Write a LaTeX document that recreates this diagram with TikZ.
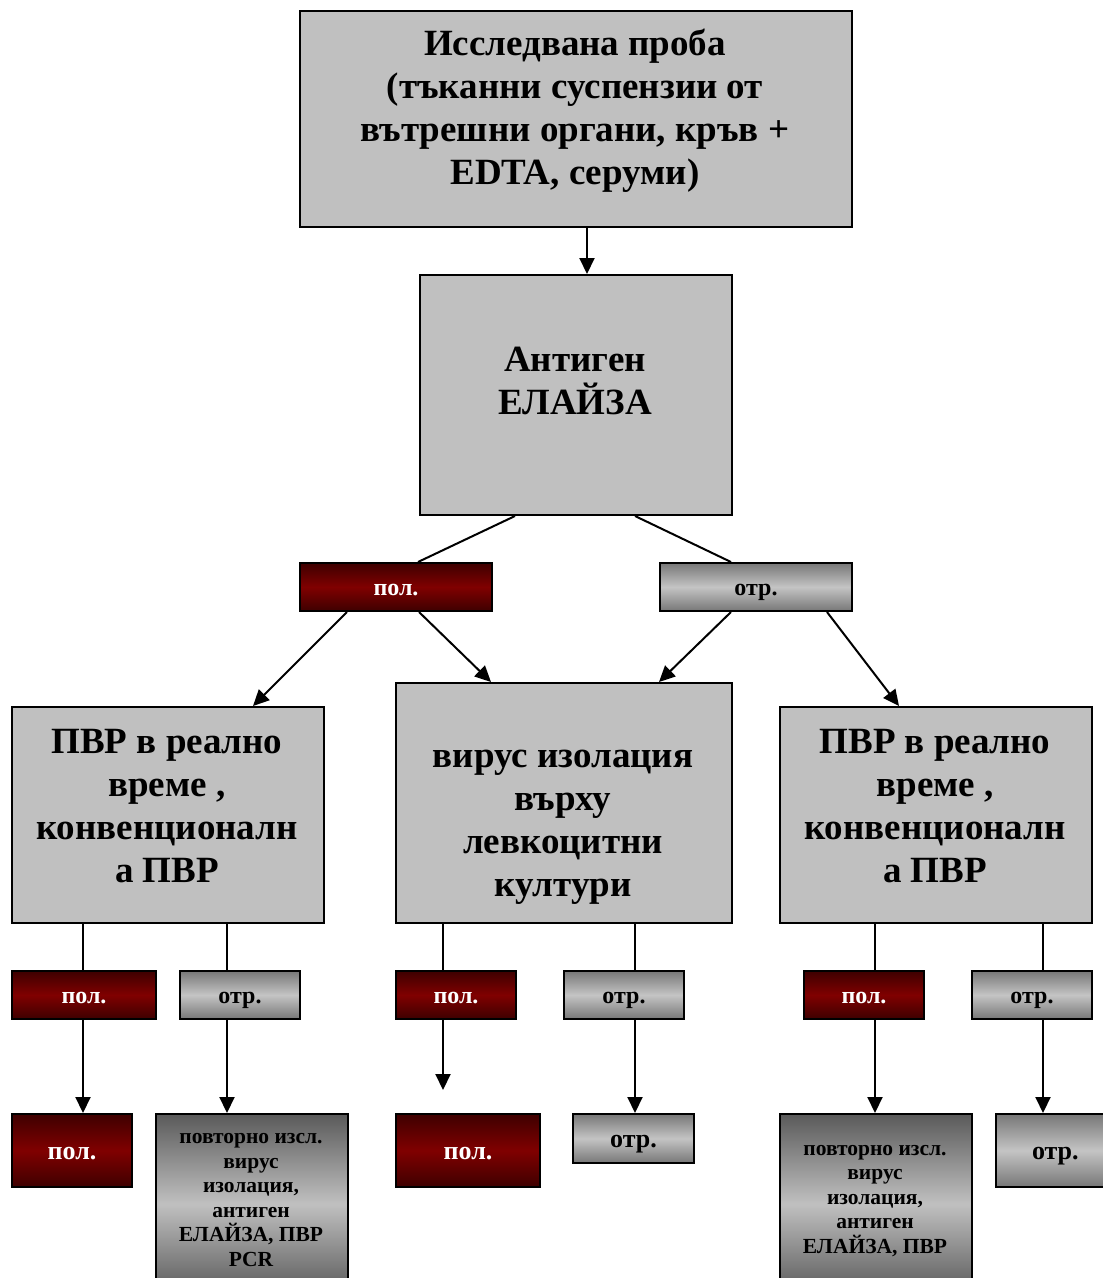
\documentclass[tikz,border=0pt]{standalone}
\usepackage{fontspec}
\setmainfont{Liberation Serif}
\usetikzlibrary{arrows.meta}
\definecolor{boxgray}{HTML}{C0C0C0}
\definecolor{polDark}{HTML}{3E0000}
\definecolor{polMid}{HTML}{800000}
\definecolor{otrDark}{HTML}{777777}
\definecolor{otrMid}{HTML}{C4C4C4}
\definecolor{tallDark}{HTML}{5A5A5A}
\tikzset{
  frame/.style={draw=black, line width=2pt, inner sep=0pt, anchor=north west},
  bigbox/.style={frame, fill=boxgray},
  polbox/.style={frame, top color=polDark, bottom color=polDark, middle color=polMid, text=white,
    font=\fontsize{24}{28}\selectfont\bfseries, text height=17pt, text depth=0pt},
  otrbox/.style={frame, top color=otrDark, bottom color=otrDark, middle color=otrMid, text=black,
    font=\fontsize{24}{28}\selectfont\bfseries, text height=17pt, text depth=0pt},
  lowbig/.style={font=\fontsize{26}{30}\selectfont\bfseries, text height=18pt, text depth=0pt},
  tallbox/.style={frame, top color=tallDark, bottom color=tallDark, middle color=boxgray},
  bigtext/.style={font=\fontsize{37}{43}\selectfont\bfseries, align=center, inner sep=0pt},
  smalltext/.style={font=\fontsize{21.5}{24.5}\selectfont\bfseries, align=center, inner sep=0pt},
  conn/.style={draw=black, line width=2pt},
  arr/.style={conn, -{Triangle[length=16pt,width=15pt]}}
}
\begin{document}
\begin{tikzpicture}[x=1pt,y=-1pt]
\fill[white] (0,0) rectangle (1103,1278);
\useasboundingbox (0,0) rectangle (1103,1278);
% level 1
\node[bigbox, minimum width=552pt, minimum height=216pt] (top) at (299,10) {};
\node[bigtext] (topT) at (575,111) {Исследвана проба\\(тъканни суспензии от\\вътрешни органи, кръв +\\EDTA, серуми)};
% level 2
\node[bigbox, minimum width=312pt, minimum height=240pt] (ant) at (419,274) {};
\node[bigtext] (antT) at (575,381) {Антиген\\ЕЛАЙЗА};
% level 3
\node[polbox, minimum width=192pt, minimum height=48pt] (pol1) at (299,562) {пол.};
\node[otrbox, minimum width=192pt, minimum height=48pt] (otr1) at (659,562) {отр.};
% level 4
\node[bigbox, minimum width=312pt, minimum height=216pt] (L) at (11,706) {};
\node[bigtext] (LT) at (167,806) {ПВР в реално\\време ,\\конвенционалн\\а ПВР};
\node[bigbox, minimum width=336pt, minimum height=240pt] (M) at (395,682) {};
\node[bigtext] (MT) at (563,827) {вирус изолация\\върху\\левкоцитни\\култури};
\node[bigbox, minimum width=312pt, minimum height=216pt] (R) at (779,706) {};
\node[bigtext] (RT) at (935,806) {ПВР в реално\\време ,\\конвенционалн\\а ПВР};
% level 5
\node[polbox, minimum width=144pt, minimum height=48pt] (Lp) at (11,970) {пол.};
\node[otrbox, minimum width=120pt, minimum height=48pt] (Lo) at (179,970) {отр.};
\node[polbox, minimum width=120pt, minimum height=48pt] (Mp) at (395,970) {пол.};
\node[otrbox, minimum width=120pt, minimum height=48pt] (Mo) at (563,970) {отр.};
\node[polbox, minimum width=120pt, minimum height=48pt] (Rp) at (803,970) {пол.};
\node[otrbox, minimum width=120pt, minimum height=48pt] (Ro) at (971,970) {отр.};
% level 6
\node[polbox, lowbig, minimum width=120pt, minimum height=73pt] (Lpp) at (11,1113) {пол.};
\node[tallbox, minimum width=192pt, minimum height=180pt] (Lre) at (155,1113) {};
\node[smalltext] (LreT) at (251,1200) {повторно изсл.\\вирус\\изолация,\\антиген\\ЕЛАЙЗА, ПВР\\PCR};
\node[polbox, lowbig, minimum width=144pt, minimum height=73pt] (Mpp) at (395,1113) {пол.};
\node[otrbox, lowbig, minimum width=121pt, minimum height=49pt] (Moo) at (572,1113) {отр.};
\node[tallbox, minimum width=192pt, minimum height=180pt] (Rre) at (779,1113) {};
\node[smalltext] (RreT) at (875,1201) {повторно изсл.\\вирус\\изолация,\\антиген\\ЕЛАЙЗА, ПВР};
\node[otrbox, lowbig, minimum width=120pt, minimum height=73pt, text width=120pt, align=left, inner xsep=0pt] (Roo) at (995,1113) {\hspace*{36pt}отр.};
\coordinate (Mend) at (443,1090);
% connectors
\draw[arr] (587,0 |- top.south) -- (587,0 |- ant.north);
\draw[conn] (515,0 |- ant.south) -- (418,0 |- pol1.north);
\draw[conn] (635,0 |- ant.south) -- (731,0 |- otr1.north);
\draw[arr] (347,0 |- pol1.south) -- (253,0 |- L.north);
\draw[arr] (419,0 |- pol1.south) -- (491,0 |- M.north);
\draw[arr] (731,0 |- otr1.south) -- (659,0 |- M.north);
\draw[arr] (827,0 |- otr1.south) -- (899,0 |- R.north);
\draw[conn] (83,0 |- L.south) -- (83,0 |- Lp.north);
\draw[conn] (227,0 |- L.south) -- (227,0 |- Lo.north);
\draw[conn] (443,0 |- M.south) -- (443,0 |- Mp.north);
\draw[conn] (635,0 |- M.south) -- (635,0 |- Mo.north);
\draw[conn] (875,0 |- R.south) -- (875,0 |- Rp.north);
\draw[conn] (1043,0 |- R.south) -- (1043,0 |- Ro.north);
\draw[arr] (83,0 |- Lp.south) -- (83,0 |- Lpp.north);
\draw[arr] (227,0 |- Lo.south) -- (227,0 |- Lre.north);
\draw[arr] (443,0 |- Mp.south) -- (Mend);
\draw[arr] (635,0 |- Mo.south) -- (635,0 |- Moo.north);
\draw[arr] (875,0 |- Rp.south) -- (875,0 |- Rre.north);
\draw[arr] (1043,0 |- Ro.south) -- (1043,0 |- Roo.north);
\end{tikzpicture}
\end{document}
